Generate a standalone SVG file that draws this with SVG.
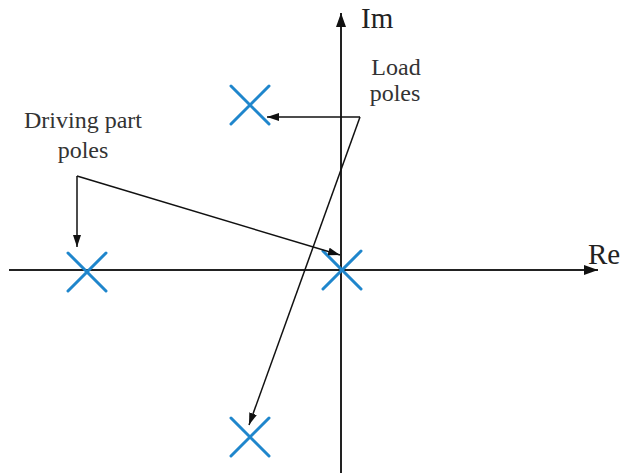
<svg xmlns="http://www.w3.org/2000/svg" width="627" height="473" viewBox="0 0 627 473">
<defs>
<style>
.axis{stroke:#222;stroke-width:2;fill:none}
.conn{stroke:#111;stroke-width:1.5;fill:none}
.pole{stroke:#1f86cc;stroke-width:3;stroke-linecap:round;fill:none}
.lbl{font-family:"Liberation Serif","Times New Roman",serif;font-size:24px;fill:#333}
.axl{font-family:"Liberation Serif","Times New Roman",serif;font-size:29px;fill:#222}
</style>
<marker id="ah" viewBox="0 0 12 8" refX="12" refY="4" markerWidth="12" markerHeight="8" markerUnits="userSpaceOnUse" orient="auto">
<path d="M0,0 L12,4 L0,8 Z" fill="#111"/>
</marker>
<marker id="ax" viewBox="0 0 14 10" refX="14" refY="5" markerWidth="14" markerHeight="10" markerUnits="userSpaceOnUse" orient="auto">
<path d="M0,0 L14,5 L0,10 Z" fill="#111"/>
</marker>
</defs>
<g id="axes">
<line class="axis" x1="341" y1="473" x2="341" y2="13" marker-end="url(#ax)"/>
<line class="axis" x1="9" y1="270" x2="598" y2="270" marker-end="url(#ax)"/>
<text class="axl" x="361" y="28">Im</text>
<text class="axl" x="588" y="264">Re</text>
</g>
<g id="pole-top"><path class="pole" d="M231,86 L269,124 M269,86 L231,124"/></g>
<g id="pole-left"><path class="pole" d="M68,253 L106,291 M106,253 L68,291"/></g>
<g id="pole-center"><path class="pole" d="M323,251 L361,289 M361,251 L323,289"/></g>
<g id="pole-bottom"><path class="pole" d="M231,418 L269,456 M269,418 L231,456"/></g>
<g id="label-load">
<text class="lbl" x="396" y="75" text-anchor="middle">Load</text>
<text class="lbl" x="395" y="101" text-anchor="middle">poles</text>
</g>
<g id="label-driving">
<text class="lbl" x="83" y="128" text-anchor="middle">Driving part</text>
<text class="lbl" x="83" y="158" text-anchor="middle">poles</text>
</g>
<g id="connectors">
<path class="conn" d="M360,117 L267,117" marker-end="url(#ah)"/>
<path class="conn" d="M360,117 L249,425" marker-end="url(#ah)"/>
<path class="conn" d="M77,176 L77,247" marker-end="url(#ah)"/>
<path class="conn" d="M77,176 L340,255" marker-end="url(#ah)"/>
</g>
</svg>
